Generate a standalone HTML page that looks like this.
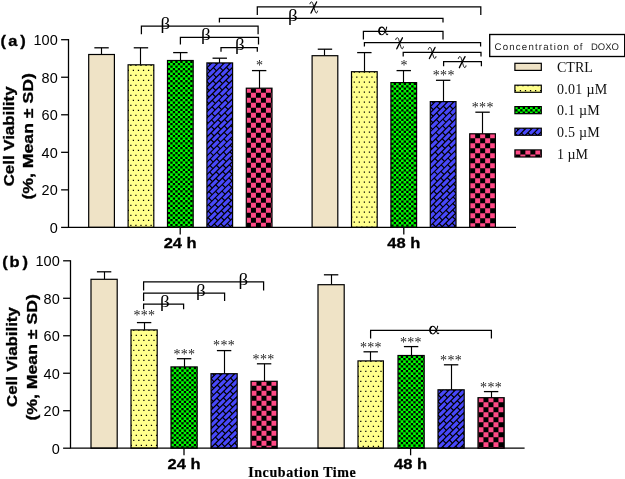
<!DOCTYPE html>
<html><head><meta charset="utf-8"><title>Cell viability</title>
<style>html,body{margin:0;padding:0;background:#fff;}svg{display:block;will-change:transform;}</style>
</head><body>
<svg width="625" height="479" viewBox="0 0 625 479">
<rect width="625" height="479" fill="#fff"/>
<path d="M101.50 54.50 V47.80" stroke="#000" stroke-width="1.15" fill="none"/>
<path d="M94.35 47.80 H108.75" stroke="#000" stroke-width="1.28" fill="none"/>
<rect x="88.70" y="54.50" width="25.70" height="172.90" fill="#EFE3C6" stroke="#000" stroke-width="1.2"/>
<path d="M140.50 64.80 V47.80" stroke="#000" stroke-width="1.15" fill="none"/>
<path d="M133.75 47.80 H148.15" stroke="#000" stroke-width="1.28" fill="none"/>
<clipPath id="c1"><rect x="128.10" y="64.80" width="25.70" height="162.60"/></clipPath><g clip-path="url(#c1)"><rect x="128.10" y="64.80" width="25.70" height="162.60" fill="#FFFF8C"/><path d="M128.34 59.67 V228.40" stroke="#000" stroke-width="1.25" stroke-dasharray="1.25 8.75"/><path d="M130.87 54.67 V228.40" stroke="#000" stroke-width="1.25" stroke-dasharray="1.25 8.75"/><path d="M133.40 59.67 V228.40" stroke="#000" stroke-width="1.25" stroke-dasharray="1.25 8.75"/><path d="M135.93 54.67 V228.40" stroke="#000" stroke-width="1.25" stroke-dasharray="1.25 8.75"/><path d="M138.46 59.67 V228.40" stroke="#000" stroke-width="1.25" stroke-dasharray="1.25 8.75"/><path d="M140.99 54.67 V228.40" stroke="#000" stroke-width="1.25" stroke-dasharray="1.25 8.75"/><path d="M143.52 59.67 V228.40" stroke="#000" stroke-width="1.25" stroke-dasharray="1.25 8.75"/><path d="M146.05 54.67 V228.40" stroke="#000" stroke-width="1.25" stroke-dasharray="1.25 8.75"/><path d="M148.58 59.67 V228.40" stroke="#000" stroke-width="1.25" stroke-dasharray="1.25 8.75"/><path d="M151.11 54.67 V228.40" stroke="#000" stroke-width="1.25" stroke-dasharray="1.25 8.75"/><path d="M153.64 59.67 V228.40" stroke="#000" stroke-width="1.25" stroke-dasharray="1.25 8.75"/></g>
<rect x="128.10" y="64.80" width="25.70" height="162.60" fill="none" stroke="#000" stroke-width="1.2"/>
<path d="M180.50 60.50 V52.60" stroke="#000" stroke-width="1.15" fill="none"/>
<path d="M173.15 52.60 H187.55" stroke="#000" stroke-width="1.28" fill="none"/>
<clipPath id="c2"><rect x="167.50" y="60.50" width="25.70" height="166.90"/></clipPath><g clip-path="url(#c2)"><rect x="167.50" y="60.50" width="25.70" height="166.90" fill="#000"/><path d="M163.95 55.73 V228.40" stroke="#00FF00" stroke-width="2.65" stroke-dasharray="2.55 2.25" stroke-dashoffset="0.00"/><path d="M166.45 55.73 V228.40" stroke="#00FF00" stroke-width="2.65" stroke-dasharray="2.55 2.25" stroke-dashoffset="2.40"/><path d="M168.95 55.73 V228.40" stroke="#00FF00" stroke-width="2.65" stroke-dasharray="2.55 2.25" stroke-dashoffset="0.00"/><path d="M171.45 55.73 V228.40" stroke="#00FF00" stroke-width="2.65" stroke-dasharray="2.55 2.25" stroke-dashoffset="2.40"/><path d="M173.95 55.73 V228.40" stroke="#00FF00" stroke-width="2.65" stroke-dasharray="2.55 2.25" stroke-dashoffset="0.00"/><path d="M176.45 55.73 V228.40" stroke="#00FF00" stroke-width="2.65" stroke-dasharray="2.55 2.25" stroke-dashoffset="2.40"/><path d="M178.95 55.73 V228.40" stroke="#00FF00" stroke-width="2.65" stroke-dasharray="2.55 2.25" stroke-dashoffset="0.00"/><path d="M181.45 55.73 V228.40" stroke="#00FF00" stroke-width="2.65" stroke-dasharray="2.55 2.25" stroke-dashoffset="2.40"/><path d="M183.95 55.73 V228.40" stroke="#00FF00" stroke-width="2.65" stroke-dasharray="2.55 2.25" stroke-dashoffset="0.00"/><path d="M186.45 55.73 V228.40" stroke="#00FF00" stroke-width="2.65" stroke-dasharray="2.55 2.25" stroke-dashoffset="2.40"/><path d="M188.95 55.73 V228.40" stroke="#00FF00" stroke-width="2.65" stroke-dasharray="2.55 2.25" stroke-dashoffset="0.00"/><path d="M191.45 55.73 V228.40" stroke="#00FF00" stroke-width="2.65" stroke-dasharray="2.55 2.25" stroke-dashoffset="2.40"/><path d="M193.95 55.73 V228.40" stroke="#00FF00" stroke-width="2.65" stroke-dasharray="2.55 2.25" stroke-dashoffset="0.00"/></g>
<rect x="167.50" y="60.50" width="25.70" height="166.90" fill="none" stroke="#000" stroke-width="1.2"/>
<path d="M219.50 62.90 V58.20" stroke="#000" stroke-width="1.15" fill="none"/>
<path d="M212.55 58.20 H226.95" stroke="#000" stroke-width="1.28" fill="none"/>
<clipPath id="c3"><rect x="206.90" y="62.90" width="25.70" height="164.50"/></clipPath><g clip-path="url(#c3)"><rect x="206.90" y="62.90" width="25.70" height="164.50" fill="#4848FA"/><g stroke="#000" stroke-width="4.44" stroke-dasharray="1.2 8.35" fill="none"><path d="M205.90 59.42 L233.60 31.72" stroke-dashoffset="5.92"/><path d="M205.90 65.71 L233.60 38.01" stroke-dashoffset="6.25"/><path d="M205.90 71.99 L233.60 44.29" stroke-dashoffset="6.58"/><path d="M205.90 78.28 L233.60 50.58" stroke-dashoffset="6.91"/><path d="M205.90 84.56 L233.60 56.86" stroke-dashoffset="7.25"/><path d="M205.90 90.85 L233.60 63.15" stroke-dashoffset="7.58"/><path d="M205.90 97.13 L233.60 69.43" stroke-dashoffset="7.91"/><path d="M205.90 103.42 L233.60 75.72" stroke-dashoffset="8.24"/><path d="M205.90 109.70 L233.60 82.00" stroke-dashoffset="8.57"/><path d="M205.90 115.99 L233.60 88.29" stroke-dashoffset="8.90"/><path d="M205.90 122.27 L233.60 94.57" stroke-dashoffset="9.23"/><path d="M205.90 128.56 L233.60 100.86" stroke-dashoffset="0.01"/><path d="M205.90 134.84 L233.60 107.14" stroke-dashoffset="0.34"/><path d="M205.90 141.13 L233.60 113.43" stroke-dashoffset="0.67"/><path d="M205.90 147.41 L233.60 119.71" stroke-dashoffset="1.00"/><path d="M205.90 153.70 L233.60 126.00" stroke-dashoffset="1.33"/><path d="M205.90 159.98 L233.60 132.28" stroke-dashoffset="1.67"/><path d="M205.90 166.27 L233.60 138.57" stroke-dashoffset="2.00"/><path d="M205.90 172.55 L233.60 144.85" stroke-dashoffset="2.33"/><path d="M205.90 178.84 L233.60 151.14" stroke-dashoffset="2.66"/><path d="M205.90 185.12 L233.60 157.42" stroke-dashoffset="2.99"/><path d="M205.90 191.41 L233.60 163.71" stroke-dashoffset="3.32"/><path d="M205.90 197.69 L233.60 169.99" stroke-dashoffset="3.65"/><path d="M205.90 203.98 L233.60 176.28" stroke-dashoffset="3.98"/><path d="M205.90 210.26 L233.60 182.56" stroke-dashoffset="4.31"/><path d="M205.90 216.55 L233.60 188.85" stroke-dashoffset="4.64"/><path d="M205.90 222.83 L233.60 195.13" stroke-dashoffset="4.97"/><path d="M205.90 229.12 L233.60 201.42" stroke-dashoffset="5.30"/><path d="M205.90 235.40 L233.60 207.70" stroke-dashoffset="5.64"/><path d="M205.90 241.69 L233.60 213.99" stroke-dashoffset="5.97"/><path d="M205.90 247.97 L233.60 220.27" stroke-dashoffset="6.30"/><path d="M205.90 254.26 L233.60 226.56" stroke-dashoffset="6.63"/></g><path d="M205.90 56.28 L233.60 28.58 M205.90 62.57 L233.60 34.87 M205.90 68.85 L233.60 41.15 M205.90 75.14 L233.60 47.44 M205.90 81.42 L233.60 53.72 M205.90 87.71 L233.60 60.01 M205.90 93.99 L233.60 66.29 M205.90 100.28 L233.60 72.58 M205.90 106.56 L233.60 78.86 M205.90 112.84 L233.60 85.15 M205.90 119.13 L233.60 91.43 M205.90 125.41 L233.60 97.72 M205.90 131.70 L233.60 104.00 M205.90 137.98 L233.60 110.28 M205.90 144.27 L233.60 116.57 M205.90 150.56 L233.60 122.86 M205.90 156.84 L233.60 129.14 M205.90 163.12 L233.60 135.42 M205.90 169.41 L233.60 141.71 M205.90 175.70 L233.60 148.00 M205.90 181.98 L233.60 154.28 M205.90 188.27 L233.60 160.57 M205.90 194.55 L233.60 166.85 M205.90 200.84 L233.60 173.14 M205.90 207.12 L233.60 179.42 M205.90 213.41 L233.60 185.71 M205.90 219.69 L233.60 191.99 M205.90 225.97 L233.60 198.28 M205.90 232.26 L233.60 204.56 M205.90 238.55 L233.60 210.85 M205.90 244.83 L233.60 217.13 M205.90 251.11 L233.60 223.41" stroke="#000" stroke-width="1.2" fill="none"/></g>
<rect x="206.90" y="62.90" width="25.70" height="164.50" fill="none" stroke="#000" stroke-width="1.2"/>
<path d="M259.50 88.20 V70.60" stroke="#000" stroke-width="1.15" fill="none"/>
<path d="M251.95 70.60 H266.35" stroke="#000" stroke-width="1.28" fill="none"/>
<clipPath id="c4"><rect x="246.30" y="88.20" width="25.70" height="139.20"/></clipPath><g clip-path="url(#c4)"><rect x="246.30" y="88.20" width="25.70" height="139.20" fill="#000"/><path d="M243.44 82.70 V228.40" stroke="#FF4A86" stroke-width="5.0" stroke-dasharray="5.0 5.0" stroke-dashoffset="0.00"/><path d="M248.44 82.70 V228.40" stroke="#FF4A86" stroke-width="5.0" stroke-dasharray="5.0 5.0" stroke-dashoffset="5.00"/><path d="M253.44 82.70 V228.40" stroke="#FF4A86" stroke-width="5.0" stroke-dasharray="5.0 5.0" stroke-dashoffset="0.00"/><path d="M258.44 82.70 V228.40" stroke="#FF4A86" stroke-width="5.0" stroke-dasharray="5.0 5.0" stroke-dashoffset="5.00"/><path d="M263.44 82.70 V228.40" stroke="#FF4A86" stroke-width="5.0" stroke-dasharray="5.0 5.0" stroke-dashoffset="0.00"/><path d="M268.44 82.70 V228.40" stroke="#FF4A86" stroke-width="5.0" stroke-dasharray="5.0 5.0" stroke-dashoffset="5.00"/><path d="M273.44 82.70 V228.40" stroke="#FF4A86" stroke-width="5.0" stroke-dasharray="5.0 5.0" stroke-dashoffset="0.00"/></g>
<rect x="246.30" y="88.20" width="25.70" height="139.20" fill="none" stroke="#000" stroke-width="1.2"/>
<path d="M324.50 55.70 V49.20" stroke="#000" stroke-width="1.15" fill="none"/>
<path d="M317.75 49.20 H332.15" stroke="#000" stroke-width="1.28" fill="none"/>
<rect x="312.10" y="55.70" width="25.70" height="171.70" fill="#EFE3C6" stroke="#000" stroke-width="1.2"/>
<path d="M364.50 71.70 V52.60" stroke="#000" stroke-width="1.15" fill="none"/>
<path d="M357.15 52.60 H371.55" stroke="#000" stroke-width="1.28" fill="none"/>
<clipPath id="c5"><rect x="351.50" y="71.70" width="25.70" height="155.70"/></clipPath><g clip-path="url(#c5)"><rect x="351.50" y="71.70" width="25.70" height="155.70" fill="#FFFF8C"/><path d="M351.74 66.57 V228.40" stroke="#000" stroke-width="1.25" stroke-dasharray="1.25 8.75"/><path d="M354.27 61.57 V228.40" stroke="#000" stroke-width="1.25" stroke-dasharray="1.25 8.75"/><path d="M356.80 66.57 V228.40" stroke="#000" stroke-width="1.25" stroke-dasharray="1.25 8.75"/><path d="M359.33 61.57 V228.40" stroke="#000" stroke-width="1.25" stroke-dasharray="1.25 8.75"/><path d="M361.86 66.57 V228.40" stroke="#000" stroke-width="1.25" stroke-dasharray="1.25 8.75"/><path d="M364.39 61.57 V228.40" stroke="#000" stroke-width="1.25" stroke-dasharray="1.25 8.75"/><path d="M366.92 66.57 V228.40" stroke="#000" stroke-width="1.25" stroke-dasharray="1.25 8.75"/><path d="M369.45 61.57 V228.40" stroke="#000" stroke-width="1.25" stroke-dasharray="1.25 8.75"/><path d="M371.98 66.57 V228.40" stroke="#000" stroke-width="1.25" stroke-dasharray="1.25 8.75"/><path d="M374.51 61.57 V228.40" stroke="#000" stroke-width="1.25" stroke-dasharray="1.25 8.75"/><path d="M377.04 66.57 V228.40" stroke="#000" stroke-width="1.25" stroke-dasharray="1.25 8.75"/></g>
<rect x="351.50" y="71.70" width="25.70" height="155.70" fill="none" stroke="#000" stroke-width="1.2"/>
<path d="M403.50 82.60 V70.60" stroke="#000" stroke-width="1.15" fill="none"/>
<path d="M396.55 70.60 H410.95" stroke="#000" stroke-width="1.28" fill="none"/>
<clipPath id="c6"><rect x="390.90" y="82.60" width="25.70" height="144.80"/></clipPath><g clip-path="url(#c6)"><rect x="390.90" y="82.60" width="25.70" height="144.80" fill="#000"/><path d="M387.35 77.83 V228.40" stroke="#00FF00" stroke-width="2.65" stroke-dasharray="2.55 2.25" stroke-dashoffset="0.00"/><path d="M389.85 77.83 V228.40" stroke="#00FF00" stroke-width="2.65" stroke-dasharray="2.55 2.25" stroke-dashoffset="2.40"/><path d="M392.35 77.83 V228.40" stroke="#00FF00" stroke-width="2.65" stroke-dasharray="2.55 2.25" stroke-dashoffset="0.00"/><path d="M394.85 77.83 V228.40" stroke="#00FF00" stroke-width="2.65" stroke-dasharray="2.55 2.25" stroke-dashoffset="2.40"/><path d="M397.35 77.83 V228.40" stroke="#00FF00" stroke-width="2.65" stroke-dasharray="2.55 2.25" stroke-dashoffset="0.00"/><path d="M399.85 77.83 V228.40" stroke="#00FF00" stroke-width="2.65" stroke-dasharray="2.55 2.25" stroke-dashoffset="2.40"/><path d="M402.35 77.83 V228.40" stroke="#00FF00" stroke-width="2.65" stroke-dasharray="2.55 2.25" stroke-dashoffset="0.00"/><path d="M404.85 77.83 V228.40" stroke="#00FF00" stroke-width="2.65" stroke-dasharray="2.55 2.25" stroke-dashoffset="2.40"/><path d="M407.35 77.83 V228.40" stroke="#00FF00" stroke-width="2.65" stroke-dasharray="2.55 2.25" stroke-dashoffset="0.00"/><path d="M409.85 77.83 V228.40" stroke="#00FF00" stroke-width="2.65" stroke-dasharray="2.55 2.25" stroke-dashoffset="2.40"/><path d="M412.35 77.83 V228.40" stroke="#00FF00" stroke-width="2.65" stroke-dasharray="2.55 2.25" stroke-dashoffset="0.00"/><path d="M414.85 77.83 V228.40" stroke="#00FF00" stroke-width="2.65" stroke-dasharray="2.55 2.25" stroke-dashoffset="2.40"/><path d="M417.35 77.83 V228.40" stroke="#00FF00" stroke-width="2.65" stroke-dasharray="2.55 2.25" stroke-dashoffset="0.00"/></g>
<rect x="390.90" y="82.60" width="25.70" height="144.80" fill="none" stroke="#000" stroke-width="1.2"/>
<path d="M443.50 101.60 V80.30" stroke="#000" stroke-width="1.15" fill="none"/>
<path d="M435.95 80.30 H450.35" stroke="#000" stroke-width="1.28" fill="none"/>
<clipPath id="c7"><rect x="430.30" y="101.60" width="25.70" height="125.80"/></clipPath><g clip-path="url(#c7)"><rect x="430.30" y="101.60" width="25.70" height="125.80" fill="#4848FA"/><g stroke="#000" stroke-width="4.44" stroke-dasharray="1.2 8.35" fill="none"><path d="M429.30 98.12 L457.00 70.42" stroke-dashoffset="5.92"/><path d="M429.30 104.41 L457.00 76.71" stroke-dashoffset="6.25"/><path d="M429.30 110.69 L457.00 82.99" stroke-dashoffset="6.58"/><path d="M429.30 116.98 L457.00 89.28" stroke-dashoffset="6.91"/><path d="M429.30 123.26 L457.00 95.56" stroke-dashoffset="7.25"/><path d="M429.30 129.55 L457.00 101.85" stroke-dashoffset="7.58"/><path d="M429.30 135.83 L457.00 108.13" stroke-dashoffset="7.91"/><path d="M429.30 142.12 L457.00 114.42" stroke-dashoffset="8.24"/><path d="M429.30 148.40 L457.00 120.70" stroke-dashoffset="8.57"/><path d="M429.30 154.69 L457.00 126.99" stroke-dashoffset="8.90"/><path d="M429.30 160.97 L457.00 133.27" stroke-dashoffset="9.23"/><path d="M429.30 167.26 L457.00 139.56" stroke-dashoffset="0.01"/><path d="M429.30 173.54 L457.00 145.84" stroke-dashoffset="0.34"/><path d="M429.30 179.83 L457.00 152.13" stroke-dashoffset="0.67"/><path d="M429.30 186.11 L457.00 158.41" stroke-dashoffset="1.00"/><path d="M429.30 192.40 L457.00 164.70" stroke-dashoffset="1.33"/><path d="M429.30 198.68 L457.00 170.98" stroke-dashoffset="1.67"/><path d="M429.30 204.97 L457.00 177.27" stroke-dashoffset="2.00"/><path d="M429.30 211.25 L457.00 183.55" stroke-dashoffset="2.33"/><path d="M429.30 217.54 L457.00 189.84" stroke-dashoffset="2.66"/><path d="M429.30 223.82 L457.00 196.12" stroke-dashoffset="2.99"/><path d="M429.30 230.11 L457.00 202.41" stroke-dashoffset="3.32"/><path d="M429.30 236.39 L457.00 208.69" stroke-dashoffset="3.65"/><path d="M429.30 242.68 L457.00 214.98" stroke-dashoffset="3.98"/><path d="M429.30 248.96 L457.00 221.26" stroke-dashoffset="4.31"/><path d="M429.30 255.25 L457.00 227.55" stroke-dashoffset="4.64"/></g><path d="M429.30 94.98 L457.00 67.28 M429.30 101.26 L457.00 73.56 M429.30 107.55 L457.00 79.85 M429.30 113.83 L457.00 86.13 M429.30 120.12 L457.00 92.42 M429.30 126.40 L457.00 98.70 M429.30 132.69 L457.00 104.99 M429.30 138.97 L457.00 111.27 M429.30 145.26 L457.00 117.56 M429.30 151.55 L457.00 123.85 M429.30 157.83 L457.00 130.13 M429.30 164.11 L457.00 136.41 M429.30 170.40 L457.00 142.70 M429.30 176.69 L457.00 148.99 M429.30 182.97 L457.00 155.27 M429.30 189.25 L457.00 161.55 M429.30 195.54 L457.00 167.84 M429.30 201.82 L457.00 174.12 M429.30 208.11 L457.00 180.41 M429.30 214.39 L457.00 186.69 M429.30 220.68 L457.00 192.98 M429.30 226.96 L457.00 199.26 M429.30 233.25 L457.00 205.55 M429.30 239.54 L457.00 211.84 M429.30 245.82 L457.00 218.12 M429.30 252.10 L457.00 224.40" stroke="#000" stroke-width="1.2" fill="none"/></g>
<rect x="430.30" y="101.60" width="25.70" height="125.80" fill="none" stroke="#000" stroke-width="1.2"/>
<path d="M482.50 133.80 V112.20" stroke="#000" stroke-width="1.15" fill="none"/>
<path d="M475.35 112.20 H489.75" stroke="#000" stroke-width="1.28" fill="none"/>
<clipPath id="c8"><rect x="469.70" y="133.80" width="25.70" height="93.60"/></clipPath><g clip-path="url(#c8)"><rect x="469.70" y="133.80" width="25.70" height="93.60" fill="#000"/><path d="M467.66 128.30 V228.40" stroke="#FF4A86" stroke-width="5.0" stroke-dasharray="5.0 5.0" stroke-dashoffset="0.00"/><path d="M472.66 128.30 V228.40" stroke="#FF4A86" stroke-width="5.0" stroke-dasharray="5.0 5.0" stroke-dashoffset="5.00"/><path d="M477.66 128.30 V228.40" stroke="#FF4A86" stroke-width="5.0" stroke-dasharray="5.0 5.0" stroke-dashoffset="0.00"/><path d="M482.66 128.30 V228.40" stroke="#FF4A86" stroke-width="5.0" stroke-dasharray="5.0 5.0" stroke-dashoffset="5.00"/><path d="M487.66 128.30 V228.40" stroke="#FF4A86" stroke-width="5.0" stroke-dasharray="5.0 5.0" stroke-dashoffset="0.00"/><path d="M492.66 128.30 V228.40" stroke="#FF4A86" stroke-width="5.0" stroke-dasharray="5.0 5.0" stroke-dashoffset="5.00"/></g>
<rect x="469.70" y="133.80" width="25.70" height="93.60" fill="none" stroke="#000" stroke-width="1.2"/>
<path d="M68.50 39.06 V227.40 H516.00" stroke="#000" stroke-width="1.28" fill="none" stroke-linejoin="miter"/>
<path d="M61.10 39.70 H68.50" stroke="#000" stroke-width="1.28"/>
<text x="57.70" y="45.20" text-anchor="end" font-family="'Liberation Sans', sans-serif" font-size="14.5" textLength="24.2" lengthAdjust="spacingAndGlyphs" fill="#000">100</text>
<path d="M61.10 77.24 H68.50" stroke="#000" stroke-width="1.28"/>
<text x="57.70" y="82.74" text-anchor="end" font-family="'Liberation Sans', sans-serif" font-size="14.5" textLength="16.1" lengthAdjust="spacingAndGlyphs" fill="#000">80</text>
<path d="M61.10 114.78 H68.50" stroke="#000" stroke-width="1.28"/>
<text x="57.70" y="120.28" text-anchor="end" font-family="'Liberation Sans', sans-serif" font-size="14.5" textLength="16.1" lengthAdjust="spacingAndGlyphs" fill="#000">60</text>
<path d="M61.10 152.32 H68.50" stroke="#000" stroke-width="1.28"/>
<text x="57.70" y="157.82" text-anchor="end" font-family="'Liberation Sans', sans-serif" font-size="14.5" textLength="16.1" lengthAdjust="spacingAndGlyphs" fill="#000">40</text>
<path d="M61.10 189.86 H68.50" stroke="#000" stroke-width="1.28"/>
<text x="57.70" y="195.36" text-anchor="end" font-family="'Liberation Sans', sans-serif" font-size="14.5" textLength="16.1" lengthAdjust="spacingAndGlyphs" fill="#000">20</text>
<path d="M61.10 227.40 H68.50" stroke="#000" stroke-width="1.28"/>
<text x="57.70" y="232.90" text-anchor="end" font-family="'Liberation Sans', sans-serif" font-size="14.5" textLength="8.06" lengthAdjust="spacingAndGlyphs" fill="#000">0</text>
<path d="M180.20 227.40 V234.50" stroke="#000" stroke-width="1.28"/>
<text x="180.20" y="248.40" text-anchor="middle" font-family="'Liberation Sans', sans-serif" font-size="14.3" font-weight="bold" stroke="#000" stroke-width="0.3" textLength="33.0" lengthAdjust="spacingAndGlyphs" fill="#000">24 h</text>
<path d="M403.80 227.40 V234.50" stroke="#000" stroke-width="1.28"/>
<text x="403.80" y="248.40" text-anchor="middle" font-family="'Liberation Sans', sans-serif" font-size="14.3" font-weight="bold" stroke="#000" stroke-width="0.3" textLength="33.0" lengthAdjust="spacingAndGlyphs" fill="#000">48 h</text>
<g transform="translate(13.60 136.40) rotate(-90)">
<text x="0.00" y="0.00" text-anchor="middle" font-family="'Liberation Sans', sans-serif" font-size="14.0" font-weight="bold" stroke="#000" stroke-width="0.3" textLength="99.8" lengthAdjust="spacingAndGlyphs" fill="#000">Cell Viability</text>
</g>
<g transform="translate(33.00 136.40) rotate(-90)">
<text x="0.00" y="0.00" text-anchor="middle" font-family="'Liberation Sans', sans-serif" font-size="14.0" font-weight="bold" stroke="#000" stroke-width="0.3" textLength="126.3" lengthAdjust="spacingAndGlyphs" fill="#000">(%, Mean ± SD)</text>
</g>
<g transform="translate(0 46.1) scale(1.15 1)"><text x="0.48 7.28 17.57" y="0" font-family="'Liberation Sans', sans-serif" font-size="14.3" font-weight="bold" stroke="#000" stroke-width="0.3" fill="#000">(a)</text></g>
<text x="259.65" y="70.30" text-anchor="middle" letter-spacing="0.3" font-family="'Liberation Serif', serif" font-size="14" fill="#222">*</text>
<text x="404.05" y="70.30" text-anchor="middle" letter-spacing="0.3" font-family="'Liberation Serif', serif" font-size="14" fill="#222">*</text>
<text x="443.75" y="80.00" text-anchor="middle" letter-spacing="0.3" font-family="'Liberation Serif', serif" font-size="14" fill="#222">***</text>
<text x="482.75" y="111.90" text-anchor="middle" letter-spacing="0.3" font-family="'Liberation Serif', serif" font-size="14" fill="#222">***</text>
<path d="M141.40 34.20 V26.00 H258.10 V34.20" stroke="#000" stroke-width="1.25" fill="none"/>
<g transform="translate(165.30 28.70) scale(1.15 1)"><text x="0" y="0" text-anchor="middle" font-family="'Liberation Serif', serif" font-size="16.5" fill="#000">β</text></g>
<path d="M180.40 44.60 V37.40 H258.50 V44.60" stroke="#000" stroke-width="1.25" fill="none"/>
<g transform="translate(205.70 40.10) scale(1.15 1)"><text x="0" y="0" text-anchor="middle" font-family="'Liberation Serif', serif" font-size="16.5" fill="#000">β</text></g>
<path d="M221.00 51.80 V47.50 H257.30 V51.80" stroke="#000" stroke-width="1.25" fill="none"/>
<g transform="translate(239.70 50.20) scale(1.15 1)"><text x="0" y="0" text-anchor="middle" font-family="'Liberation Serif', serif" font-size="16.5" fill="#000">β</text></g>
<path d="M219.40 22.60 V18.30 H443.00 V22.60" stroke="#000" stroke-width="1.25" fill="none"/>
<g transform="translate(292.70 21.00) scale(1.15 1)"><text x="0" y="0" text-anchor="middle" font-family="'Liberation Serif', serif" font-size="16.5" fill="#000">β</text></g>
<path d="M257.30 15.00 V6.80 H480.80 V15.00" stroke="#000" stroke-width="1.25" fill="none"/>
<g transform="translate(313.80 6.80) scale(0.88 0.98)" fill="none" stroke="#000" stroke-linecap="round"><path d="M-3.2 6.3 C-1.5 3 1.2 -1.5 3.2 -4.9" stroke-width="1.5"/><path d="M-4.4 -3.1 C-4.0 -4.6 -2.9 -5.3 -2.2 -4.9 C-1.2 -4.4 -0.8 -2.5 0 0 C0.9 2.8 1.5 5.5 2.6 6.2 C3.4 6.6 4.1 5.6 4.3 4.4" stroke-width="1.0"/></g>
<path d="M363.40 39.40 V31.30 H443.00 V39.40" stroke="#000" stroke-width="1.25" fill="none"/>
<g transform="translate(383.20 31.30) scale(0.97)" fill="none" stroke="#000" stroke-linecap="round"><path d="M3.6 -4.4 C3.2 -2.5 2.8 -1.2 2.2 -0.2 C1.2 1.8 0.2 3.6 -1.4 3.6 C-3.4 3.6 -4.4 1.8 -4.4 -0.4 C-4.4 -2.6 -3.3 -4.3 -1.4 -4.3 C0.3 -4.3 1.4 -2.4 2.2 -0.2 C2.8 1.6 3.0 3.5 3.9 3.5 C4.3 3.5 4.6 3.2 4.7 2.8" stroke-width="1.05"/><path d="M-2.9 3.0 C-4.0 2.2 -4.3 0.8 -4.3 -0.4 C-4.3 -1.6 -4.0 -2.9 -2.9 -3.7" stroke-width="1.55"/></g>
<path d="M364.40 46.60 V42.60 H480.60 V46.60" stroke="#000" stroke-width="1.25" fill="none"/>
<g transform="translate(399.60 42.60) scale(0.88 0.98)" fill="none" stroke="#000" stroke-linecap="round"><path d="M-3.2 6.3 C-1.5 3 1.2 -1.5 3.2 -4.9" stroke-width="1.5"/><path d="M-4.4 -3.1 C-4.0 -4.6 -2.9 -5.3 -2.2 -4.9 C-1.2 -4.4 -0.8 -2.5 0 0 C0.9 2.8 1.5 5.5 2.6 6.2 C3.4 6.6 4.1 5.6 4.3 4.4" stroke-width="1.0"/></g>
<path d="M403.20 56.60 V52.30 H481.00 V56.60" stroke="#000" stroke-width="1.25" fill="none"/>
<g transform="translate(432.20 52.30) scale(0.88 0.98)" fill="none" stroke="#000" stroke-linecap="round"><path d="M-3.2 6.3 C-1.5 3 1.2 -1.5 3.2 -4.9" stroke-width="1.5"/><path d="M-4.4 -3.1 C-4.0 -4.6 -2.9 -5.3 -2.2 -4.9 C-1.2 -4.4 -0.8 -2.5 0 0 C0.9 2.8 1.5 5.5 2.6 6.2 C3.4 6.6 4.1 5.6 4.3 4.4" stroke-width="1.0"/></g>
<path d="M443.60 66.20 V61.50 H481.40 V66.20" stroke="#000" stroke-width="1.25" fill="none"/>
<g transform="translate(462.20 61.50) scale(0.88 0.98)" fill="none" stroke="#000" stroke-linecap="round"><path d="M-3.2 6.3 C-1.5 3 1.2 -1.5 3.2 -4.9" stroke-width="1.5"/><path d="M-4.4 -3.1 C-4.0 -4.6 -2.9 -5.3 -2.2 -4.9 C-1.2 -4.4 -0.8 -2.5 0 0 C0.9 2.8 1.5 5.5 2.6 6.2 C3.4 6.6 4.1 5.6 4.3 4.4" stroke-width="1.0"/></g>
<rect x="489.7" y="34.5" width="135.0" height="22.0" fill="#fff" stroke="#000" stroke-width="1.35"/>
<g transform="translate(494.6 49.5) skewX(0.05)"><text x="0" y="0" font-family="'Liberation Sans', sans-serif" font-size="9.7" textLength="74.3" lengthAdjust="spacing" fill="#1c1c1c">Concentration</text></g>
<g transform="translate(573.6 49.5) skewX(0.05)"><text x="0" y="0" font-family="'Liberation Sans', sans-serif" font-size="9.7" textLength="8.8" lengthAdjust="spacing" fill="#1c1c1c">of</text></g>
<g transform="translate(590.9 49.5) skewX(0.05)"><text x="0" y="0" font-family="'Liberation Sans', sans-serif" font-size="9.5" textLength="28.0" lengthAdjust="spacing" fill="#1c1c1c">DOXO</text></g>
<rect x="514.9" y="63.30" width="26.4" height="7.1" fill="#EFE3C6" stroke="#000" stroke-width="1.2"/>
<text x="557.0" y="72.05" font-family="'Liberation Serif', serif" font-size="14" textLength="35.9" lengthAdjust="spacing" fill="#111">CTRL</text>
<clipPath id="c9"><rect x="514.90" y="85.20" width="26.40" height="7.10"/></clipPath><g clip-path="url(#c9)"><rect x="514.90" y="85.20" width="26.40" height="7.10" fill="#FFFF8C"/><path d="M515.38 80.08 V93.30" stroke="#000" stroke-width="1.25" stroke-dasharray="1.25 8.75"/><path d="M517.91 75.08 V93.30" stroke="#000" stroke-width="1.25" stroke-dasharray="1.25 8.75"/><path d="M520.44 80.08 V93.30" stroke="#000" stroke-width="1.25" stroke-dasharray="1.25 8.75"/><path d="M522.97 75.08 V93.30" stroke="#000" stroke-width="1.25" stroke-dasharray="1.25 8.75"/><path d="M525.50 80.08 V93.30" stroke="#000" stroke-width="1.25" stroke-dasharray="1.25 8.75"/><path d="M528.03 75.08 V93.30" stroke="#000" stroke-width="1.25" stroke-dasharray="1.25 8.75"/><path d="M530.56 80.08 V93.30" stroke="#000" stroke-width="1.25" stroke-dasharray="1.25 8.75"/><path d="M533.09 75.08 V93.30" stroke="#000" stroke-width="1.25" stroke-dasharray="1.25 8.75"/><path d="M535.62 80.08 V93.30" stroke="#000" stroke-width="1.25" stroke-dasharray="1.25 8.75"/><path d="M538.15 75.08 V93.30" stroke="#000" stroke-width="1.25" stroke-dasharray="1.25 8.75"/><path d="M540.68 80.08 V93.30" stroke="#000" stroke-width="1.25" stroke-dasharray="1.25 8.75"/></g>
<rect x="514.9" y="85.20" width="26.4" height="7.1" fill="none" stroke="#000" stroke-width="1.2"/>
<text x="557.0" y="93.67" font-family="'Liberation Serif', serif" font-size="14" textLength="50.2" lengthAdjust="spacing" fill="#111">0.01 µM</text>
<clipPath id="c10"><rect x="514.90" y="106.60" width="26.40" height="7.10"/></clipPath><g clip-path="url(#c10)"><rect x="514.90" y="106.60" width="26.40" height="7.10" fill="#000"/><path d="M511.35 101.83 V114.70" stroke="#00FF00" stroke-width="2.65" stroke-dasharray="2.55 2.25" stroke-dashoffset="0.00"/><path d="M513.85 101.83 V114.70" stroke="#00FF00" stroke-width="2.65" stroke-dasharray="2.55 2.25" stroke-dashoffset="2.40"/><path d="M516.35 101.83 V114.70" stroke="#00FF00" stroke-width="2.65" stroke-dasharray="2.55 2.25" stroke-dashoffset="0.00"/><path d="M518.85 101.83 V114.70" stroke="#00FF00" stroke-width="2.65" stroke-dasharray="2.55 2.25" stroke-dashoffset="2.40"/><path d="M521.35 101.83 V114.70" stroke="#00FF00" stroke-width="2.65" stroke-dasharray="2.55 2.25" stroke-dashoffset="0.00"/><path d="M523.85 101.83 V114.70" stroke="#00FF00" stroke-width="2.65" stroke-dasharray="2.55 2.25" stroke-dashoffset="2.40"/><path d="M526.35 101.83 V114.70" stroke="#00FF00" stroke-width="2.65" stroke-dasharray="2.55 2.25" stroke-dashoffset="0.00"/><path d="M528.85 101.83 V114.70" stroke="#00FF00" stroke-width="2.65" stroke-dasharray="2.55 2.25" stroke-dashoffset="2.40"/><path d="M531.35 101.83 V114.70" stroke="#00FF00" stroke-width="2.65" stroke-dasharray="2.55 2.25" stroke-dashoffset="0.00"/><path d="M533.85 101.83 V114.70" stroke="#00FF00" stroke-width="2.65" stroke-dasharray="2.55 2.25" stroke-dashoffset="2.40"/><path d="M536.35 101.83 V114.70" stroke="#00FF00" stroke-width="2.65" stroke-dasharray="2.55 2.25" stroke-dashoffset="0.00"/><path d="M538.85 101.83 V114.70" stroke="#00FF00" stroke-width="2.65" stroke-dasharray="2.55 2.25" stroke-dashoffset="2.40"/><path d="M541.35 101.83 V114.70" stroke="#00FF00" stroke-width="2.65" stroke-dasharray="2.55 2.25" stroke-dashoffset="0.00"/></g>
<rect x="514.9" y="106.60" width="26.4" height="7.1" fill="none" stroke="#000" stroke-width="1.2"/>
<text x="557.0" y="115.29" font-family="'Liberation Serif', serif" font-size="14" textLength="42.8" lengthAdjust="spacing" fill="#111">0.1 µM</text>
<clipPath id="c11"><rect x="514.90" y="128.20" width="26.40" height="7.10"/></clipPath><g clip-path="url(#c11)"><rect x="514.90" y="128.20" width="26.40" height="7.10" fill="#4848FA"/><g stroke="#000" stroke-width="4.44" stroke-dasharray="1.2 8.35" fill="none"><path d="M513.90 124.72 L542.30 96.32" stroke-dashoffset="5.92"/><path d="M513.90 131.01 L542.30 102.61" stroke-dashoffset="6.25"/><path d="M513.90 137.29 L542.30 108.89" stroke-dashoffset="6.58"/><path d="M513.90 143.58 L542.30 115.18" stroke-dashoffset="6.91"/><path d="M513.90 149.86 L542.30 121.46" stroke-dashoffset="7.25"/><path d="M513.90 156.15 L542.30 127.75" stroke-dashoffset="7.58"/><path d="M513.90 162.43 L542.30 134.03" stroke-dashoffset="7.91"/></g><path d="M513.90 121.58 L542.30 93.18 M513.90 127.86 L542.30 99.46 M513.90 134.15 L542.30 105.75 M513.90 140.43 L542.30 112.03 M513.90 146.72 L542.30 118.32 M513.90 153.00 L542.30 124.60 M513.90 159.29 L542.30 130.89" stroke="#000" stroke-width="1.2" fill="none"/></g>
<rect x="514.9" y="128.20" width="26.4" height="7.1" fill="none" stroke="#000" stroke-width="1.2"/>
<text x="557.0" y="136.91" font-family="'Liberation Serif', serif" font-size="14" textLength="42.8" lengthAdjust="spacing" fill="#111">0.5 µM</text>
<clipPath id="c12"><rect x="514.90" y="149.90" width="26.40" height="7.10"/></clipPath><g clip-path="url(#c12)"><rect x="514.90" y="149.90" width="26.40" height="7.10" fill="#000"/><path d="M512.86 144.40 V158.00" stroke="#FF4A86" stroke-width="5.0" stroke-dasharray="5.0 5.0" stroke-dashoffset="0.00"/><path d="M517.86 144.40 V158.00" stroke="#FF4A86" stroke-width="5.0" stroke-dasharray="5.0 5.0" stroke-dashoffset="5.00"/><path d="M522.86 144.40 V158.00" stroke="#FF4A86" stroke-width="5.0" stroke-dasharray="5.0 5.0" stroke-dashoffset="0.00"/><path d="M527.86 144.40 V158.00" stroke="#FF4A86" stroke-width="5.0" stroke-dasharray="5.0 5.0" stroke-dashoffset="5.00"/><path d="M532.86 144.40 V158.00" stroke="#FF4A86" stroke-width="5.0" stroke-dasharray="5.0 5.0" stroke-dashoffset="0.00"/><path d="M537.86 144.40 V158.00" stroke="#FF4A86" stroke-width="5.0" stroke-dasharray="5.0 5.0" stroke-dashoffset="5.00"/><path d="M542.86 144.40 V158.00" stroke="#FF4A86" stroke-width="5.0" stroke-dasharray="5.0 5.0" stroke-dashoffset="0.00"/></g>
<rect x="514.9" y="149.90" width="26.4" height="7.1" fill="none" stroke="#000" stroke-width="1.2"/>
<text x="557.0" y="158.53" font-family="'Liberation Serif', serif" font-size="14" textLength="30.9" lengthAdjust="spacing" fill="#111">1 µM</text>
<path d="M104.50 279.30 V271.80" stroke="#000" stroke-width="1.15" fill="none"/>
<path d="M96.90 271.80 H111.30" stroke="#000" stroke-width="1.28" fill="none"/>
<rect x="91.00" y="279.30" width="26.20" height="168.90" fill="#EFE3C6" stroke="#000" stroke-width="1.2"/>
<path d="M144.50 329.90 V322.60" stroke="#000" stroke-width="1.15" fill="none"/>
<path d="M136.90 322.60 H151.30" stroke="#000" stroke-width="1.28" fill="none"/>
<clipPath id="c13"><rect x="131.00" y="329.90" width="26.20" height="118.30"/></clipPath><g clip-path="url(#c13)"><rect x="131.00" y="329.90" width="26.20" height="118.30" fill="#FFFF8C"/><path d="M131.24 324.78 V449.20" stroke="#000" stroke-width="1.25" stroke-dasharray="1.25 8.75"/><path d="M133.77 319.78 V449.20" stroke="#000" stroke-width="1.25" stroke-dasharray="1.25 8.75"/><path d="M136.30 324.78 V449.20" stroke="#000" stroke-width="1.25" stroke-dasharray="1.25 8.75"/><path d="M138.83 319.78 V449.20" stroke="#000" stroke-width="1.25" stroke-dasharray="1.25 8.75"/><path d="M141.36 324.78 V449.20" stroke="#000" stroke-width="1.25" stroke-dasharray="1.25 8.75"/><path d="M143.89 319.78 V449.20" stroke="#000" stroke-width="1.25" stroke-dasharray="1.25 8.75"/><path d="M146.42 324.78 V449.20" stroke="#000" stroke-width="1.25" stroke-dasharray="1.25 8.75"/><path d="M148.95 319.78 V449.20" stroke="#000" stroke-width="1.25" stroke-dasharray="1.25 8.75"/><path d="M151.48 324.78 V449.20" stroke="#000" stroke-width="1.25" stroke-dasharray="1.25 8.75"/><path d="M154.01 319.78 V449.20" stroke="#000" stroke-width="1.25" stroke-dasharray="1.25 8.75"/><path d="M156.54 324.78 V449.20" stroke="#000" stroke-width="1.25" stroke-dasharray="1.25 8.75"/></g>
<rect x="131.00" y="329.90" width="26.20" height="118.30" fill="none" stroke="#000" stroke-width="1.2"/>
<path d="M184.50 366.90 V358.70" stroke="#000" stroke-width="1.15" fill="none"/>
<path d="M176.90 358.70 H191.30" stroke="#000" stroke-width="1.28" fill="none"/>
<clipPath id="c14"><rect x="171.00" y="366.90" width="26.20" height="81.30"/></clipPath><g clip-path="url(#c14)"><rect x="171.00" y="366.90" width="26.20" height="81.30" fill="#000"/><path d="M167.45 362.13 V449.20" stroke="#00FF00" stroke-width="2.65" stroke-dasharray="2.55 2.25" stroke-dashoffset="0.00"/><path d="M169.95 362.13 V449.20" stroke="#00FF00" stroke-width="2.65" stroke-dasharray="2.55 2.25" stroke-dashoffset="2.40"/><path d="M172.45 362.13 V449.20" stroke="#00FF00" stroke-width="2.65" stroke-dasharray="2.55 2.25" stroke-dashoffset="0.00"/><path d="M174.95 362.13 V449.20" stroke="#00FF00" stroke-width="2.65" stroke-dasharray="2.55 2.25" stroke-dashoffset="2.40"/><path d="M177.45 362.13 V449.20" stroke="#00FF00" stroke-width="2.65" stroke-dasharray="2.55 2.25" stroke-dashoffset="0.00"/><path d="M179.95 362.13 V449.20" stroke="#00FF00" stroke-width="2.65" stroke-dasharray="2.55 2.25" stroke-dashoffset="2.40"/><path d="M182.45 362.13 V449.20" stroke="#00FF00" stroke-width="2.65" stroke-dasharray="2.55 2.25" stroke-dashoffset="0.00"/><path d="M184.95 362.13 V449.20" stroke="#00FF00" stroke-width="2.65" stroke-dasharray="2.55 2.25" stroke-dashoffset="2.40"/><path d="M187.45 362.13 V449.20" stroke="#00FF00" stroke-width="2.65" stroke-dasharray="2.55 2.25" stroke-dashoffset="0.00"/><path d="M189.95 362.13 V449.20" stroke="#00FF00" stroke-width="2.65" stroke-dasharray="2.55 2.25" stroke-dashoffset="2.40"/><path d="M192.45 362.13 V449.20" stroke="#00FF00" stroke-width="2.65" stroke-dasharray="2.55 2.25" stroke-dashoffset="0.00"/><path d="M194.95 362.13 V449.20" stroke="#00FF00" stroke-width="2.65" stroke-dasharray="2.55 2.25" stroke-dashoffset="2.40"/><path d="M197.45 362.13 V449.20" stroke="#00FF00" stroke-width="2.65" stroke-dasharray="2.55 2.25" stroke-dashoffset="0.00"/></g>
<rect x="171.00" y="366.90" width="26.20" height="81.30" fill="none" stroke="#000" stroke-width="1.2"/>
<path d="M224.50 373.70 V350.60" stroke="#000" stroke-width="1.15" fill="none"/>
<path d="M216.90 350.60 H231.30" stroke="#000" stroke-width="1.28" fill="none"/>
<clipPath id="c15"><rect x="211.00" y="373.70" width="26.20" height="74.50"/></clipPath><g clip-path="url(#c15)"><rect x="211.00" y="373.70" width="26.20" height="74.50" fill="#4848FA"/><g stroke="#000" stroke-width="4.44" stroke-dasharray="1.2 8.35" fill="none"><path d="M210.00 370.22 L238.20 342.02" stroke-dashoffset="5.92"/><path d="M210.00 376.51 L238.20 348.31" stroke-dashoffset="6.25"/><path d="M210.00 382.79 L238.20 354.59" stroke-dashoffset="6.58"/><path d="M210.00 389.08 L238.20 360.88" stroke-dashoffset="6.91"/><path d="M210.00 395.36 L238.20 367.16" stroke-dashoffset="7.25"/><path d="M210.00 401.65 L238.20 373.45" stroke-dashoffset="7.58"/><path d="M210.00 407.93 L238.20 379.73" stroke-dashoffset="7.91"/><path d="M210.00 414.22 L238.20 386.02" stroke-dashoffset="8.24"/><path d="M210.00 420.50 L238.20 392.30" stroke-dashoffset="8.57"/><path d="M210.00 426.79 L238.20 398.59" stroke-dashoffset="8.90"/><path d="M210.00 433.07 L238.20 404.87" stroke-dashoffset="9.23"/><path d="M210.00 439.36 L238.20 411.16" stroke-dashoffset="0.01"/><path d="M210.00 445.64 L238.20 417.44" stroke-dashoffset="0.34"/><path d="M210.00 451.93 L238.20 423.73" stroke-dashoffset="0.67"/><path d="M210.00 458.21 L238.20 430.01" stroke-dashoffset="1.00"/><path d="M210.00 464.50 L238.20 436.30" stroke-dashoffset="1.33"/><path d="M210.00 470.78 L238.20 442.58" stroke-dashoffset="1.67"/><path d="M210.00 477.07 L238.20 448.87" stroke-dashoffset="2.00"/></g><path d="M210.00 367.08 L238.20 338.88 M210.00 373.36 L238.20 345.16 M210.00 379.65 L238.20 351.45 M210.00 385.93 L238.20 357.73 M210.00 392.22 L238.20 364.02 M210.00 398.50 L238.20 370.30 M210.00 404.79 L238.20 376.59 M210.00 411.07 L238.20 382.87 M210.00 417.36 L238.20 389.16 M210.00 423.64 L238.20 395.44 M210.00 429.93 L238.20 401.73 M210.00 436.21 L238.20 408.01 M210.00 442.50 L238.20 414.30 M210.00 448.78 L238.20 420.58 M210.00 455.07 L238.20 426.87 M210.00 461.35 L238.20 433.15 M210.00 467.64 L238.20 439.44 M210.00 473.92 L238.20 445.72" stroke="#000" stroke-width="1.2" fill="none"/></g>
<rect x="211.00" y="373.70" width="26.20" height="74.50" fill="none" stroke="#000" stroke-width="1.2"/>
<path d="M264.50 381.30 V363.80" stroke="#000" stroke-width="1.15" fill="none"/>
<path d="M256.90 363.80 H271.30" stroke="#000" stroke-width="1.28" fill="none"/>
<clipPath id="c16"><rect x="251.00" y="381.30" width="26.20" height="66.90"/></clipPath><g clip-path="url(#c16)"><rect x="251.00" y="381.30" width="26.20" height="66.90" fill="#000"/><path d="M248.96 375.80 V449.20" stroke="#FF4A86" stroke-width="5.0" stroke-dasharray="5.0 5.0" stroke-dashoffset="0.00"/><path d="M253.96 375.80 V449.20" stroke="#FF4A86" stroke-width="5.0" stroke-dasharray="5.0 5.0" stroke-dashoffset="5.00"/><path d="M258.96 375.80 V449.20" stroke="#FF4A86" stroke-width="5.0" stroke-dasharray="5.0 5.0" stroke-dashoffset="0.00"/><path d="M263.96 375.80 V449.20" stroke="#FF4A86" stroke-width="5.0" stroke-dasharray="5.0 5.0" stroke-dashoffset="5.00"/><path d="M268.96 375.80 V449.20" stroke="#FF4A86" stroke-width="5.0" stroke-dasharray="5.0 5.0" stroke-dashoffset="0.00"/><path d="M273.96 375.80 V449.20" stroke="#FF4A86" stroke-width="5.0" stroke-dasharray="5.0 5.0" stroke-dashoffset="5.00"/></g>
<rect x="251.00" y="381.30" width="26.20" height="66.90" fill="none" stroke="#000" stroke-width="1.2"/>
<path d="M331.50 284.70 V274.80" stroke="#000" stroke-width="1.15" fill="none"/>
<path d="M323.90 274.80 H338.30" stroke="#000" stroke-width="1.28" fill="none"/>
<rect x="318.00" y="284.70" width="26.20" height="163.50" fill="#EFE3C6" stroke="#000" stroke-width="1.2"/>
<path d="M370.50 360.90 V351.80" stroke="#000" stroke-width="1.15" fill="none"/>
<path d="M363.50 351.80 H377.90" stroke="#000" stroke-width="1.28" fill="none"/>
<clipPath id="c17"><rect x="358.00" y="360.90" width="25.40" height="87.30"/></clipPath><g clip-path="url(#c17)"><rect x="358.00" y="360.90" width="25.40" height="87.30" fill="#FFFF8C"/><path d="M358.24 355.78 V449.20" stroke="#000" stroke-width="1.25" stroke-dasharray="1.25 8.75"/><path d="M360.77 350.78 V449.20" stroke="#000" stroke-width="1.25" stroke-dasharray="1.25 8.75"/><path d="M363.30 355.78 V449.20" stroke="#000" stroke-width="1.25" stroke-dasharray="1.25 8.75"/><path d="M365.83 350.78 V449.20" stroke="#000" stroke-width="1.25" stroke-dasharray="1.25 8.75"/><path d="M368.36 355.78 V449.20" stroke="#000" stroke-width="1.25" stroke-dasharray="1.25 8.75"/><path d="M370.89 350.78 V449.20" stroke="#000" stroke-width="1.25" stroke-dasharray="1.25 8.75"/><path d="M373.42 355.78 V449.20" stroke="#000" stroke-width="1.25" stroke-dasharray="1.25 8.75"/><path d="M375.95 350.78 V449.20" stroke="#000" stroke-width="1.25" stroke-dasharray="1.25 8.75"/><path d="M378.48 355.78 V449.20" stroke="#000" stroke-width="1.25" stroke-dasharray="1.25 8.75"/><path d="M381.01 350.78 V449.20" stroke="#000" stroke-width="1.25" stroke-dasharray="1.25 8.75"/><path d="M383.54 355.78 V449.20" stroke="#000" stroke-width="1.25" stroke-dasharray="1.25 8.75"/></g>
<rect x="358.00" y="360.90" width="25.40" height="87.30" fill="none" stroke="#000" stroke-width="1.2"/>
<path d="M411.50 355.50 V346.60" stroke="#000" stroke-width="1.15" fill="none"/>
<path d="M403.90 346.60 H418.30" stroke="#000" stroke-width="1.28" fill="none"/>
<clipPath id="c18"><rect x="398.00" y="355.50" width="26.20" height="92.70"/></clipPath><g clip-path="url(#c18)"><rect x="398.00" y="355.50" width="26.20" height="92.70" fill="#000"/><path d="M394.45 350.73 V449.20" stroke="#00FF00" stroke-width="2.65" stroke-dasharray="2.55 2.25" stroke-dashoffset="0.00"/><path d="M396.95 350.73 V449.20" stroke="#00FF00" stroke-width="2.65" stroke-dasharray="2.55 2.25" stroke-dashoffset="2.40"/><path d="M399.45 350.73 V449.20" stroke="#00FF00" stroke-width="2.65" stroke-dasharray="2.55 2.25" stroke-dashoffset="0.00"/><path d="M401.95 350.73 V449.20" stroke="#00FF00" stroke-width="2.65" stroke-dasharray="2.55 2.25" stroke-dashoffset="2.40"/><path d="M404.45 350.73 V449.20" stroke="#00FF00" stroke-width="2.65" stroke-dasharray="2.55 2.25" stroke-dashoffset="0.00"/><path d="M406.95 350.73 V449.20" stroke="#00FF00" stroke-width="2.65" stroke-dasharray="2.55 2.25" stroke-dashoffset="2.40"/><path d="M409.45 350.73 V449.20" stroke="#00FF00" stroke-width="2.65" stroke-dasharray="2.55 2.25" stroke-dashoffset="0.00"/><path d="M411.95 350.73 V449.20" stroke="#00FF00" stroke-width="2.65" stroke-dasharray="2.55 2.25" stroke-dashoffset="2.40"/><path d="M414.45 350.73 V449.20" stroke="#00FF00" stroke-width="2.65" stroke-dasharray="2.55 2.25" stroke-dashoffset="0.00"/><path d="M416.95 350.73 V449.20" stroke="#00FF00" stroke-width="2.65" stroke-dasharray="2.55 2.25" stroke-dashoffset="2.40"/><path d="M419.45 350.73 V449.20" stroke="#00FF00" stroke-width="2.65" stroke-dasharray="2.55 2.25" stroke-dashoffset="0.00"/><path d="M421.95 350.73 V449.20" stroke="#00FF00" stroke-width="2.65" stroke-dasharray="2.55 2.25" stroke-dashoffset="2.40"/><path d="M424.45 350.73 V449.20" stroke="#00FF00" stroke-width="2.65" stroke-dasharray="2.55 2.25" stroke-dashoffset="0.00"/></g>
<rect x="398.00" y="355.50" width="26.20" height="92.70" fill="none" stroke="#000" stroke-width="1.2"/>
<path d="M451.50 389.80 V364.80" stroke="#000" stroke-width="1.15" fill="none"/>
<path d="M443.90 364.80 H458.30" stroke="#000" stroke-width="1.28" fill="none"/>
<clipPath id="c19"><rect x="438.00" y="389.80" width="26.20" height="58.40"/></clipPath><g clip-path="url(#c19)"><rect x="438.00" y="389.80" width="26.20" height="58.40" fill="#4848FA"/><g stroke="#000" stroke-width="4.44" stroke-dasharray="1.2 8.35" fill="none"><path d="M437.00 386.32 L465.20 358.12" stroke-dashoffset="5.92"/><path d="M437.00 392.61 L465.20 364.41" stroke-dashoffset="6.25"/><path d="M437.00 398.89 L465.20 370.69" stroke-dashoffset="6.58"/><path d="M437.00 405.18 L465.20 376.98" stroke-dashoffset="6.91"/><path d="M437.00 411.46 L465.20 383.26" stroke-dashoffset="7.25"/><path d="M437.00 417.75 L465.20 389.55" stroke-dashoffset="7.58"/><path d="M437.00 424.03 L465.20 395.83" stroke-dashoffset="7.91"/><path d="M437.00 430.32 L465.20 402.12" stroke-dashoffset="8.24"/><path d="M437.00 436.60 L465.20 408.40" stroke-dashoffset="8.57"/><path d="M437.00 442.89 L465.20 414.69" stroke-dashoffset="8.90"/><path d="M437.00 449.17 L465.20 420.97" stroke-dashoffset="9.23"/><path d="M437.00 455.46 L465.20 427.26" stroke-dashoffset="0.01"/><path d="M437.00 461.74 L465.20 433.54" stroke-dashoffset="0.34"/><path d="M437.00 468.03 L465.20 439.83" stroke-dashoffset="0.67"/><path d="M437.00 474.31 L465.20 446.11" stroke-dashoffset="1.00"/></g><path d="M437.00 383.18 L465.20 354.98 M437.00 389.46 L465.20 361.26 M437.00 395.75 L465.20 367.55 M437.00 402.03 L465.20 373.83 M437.00 408.32 L465.20 380.12 M437.00 414.60 L465.20 386.40 M437.00 420.89 L465.20 392.69 M437.00 427.17 L465.20 398.97 M437.00 433.46 L465.20 405.26 M437.00 439.74 L465.20 411.54 M437.00 446.03 L465.20 417.83 M437.00 452.31 L465.20 424.11 M437.00 458.60 L465.20 430.40 M437.00 464.88 L465.20 436.68 M437.00 471.17 L465.20 442.97" stroke="#000" stroke-width="1.2" fill="none"/></g>
<rect x="438.00" y="389.80" width="26.20" height="58.40" fill="none" stroke="#000" stroke-width="1.2"/>
<path d="M491.50 397.70 V391.60" stroke="#000" stroke-width="1.15" fill="none"/>
<path d="M483.90 391.60 H498.30" stroke="#000" stroke-width="1.28" fill="none"/>
<clipPath id="c20"><rect x="478.00" y="397.70" width="26.20" height="50.50"/></clipPath><g clip-path="url(#c20)"><rect x="478.00" y="397.70" width="26.20" height="50.50" fill="#000"/><path d="M475.96 392.20 V449.20" stroke="#FF4A86" stroke-width="5.0" stroke-dasharray="5.0 5.0" stroke-dashoffset="0.00"/><path d="M480.96 392.20 V449.20" stroke="#FF4A86" stroke-width="5.0" stroke-dasharray="5.0 5.0" stroke-dashoffset="5.00"/><path d="M485.96 392.20 V449.20" stroke="#FF4A86" stroke-width="5.0" stroke-dasharray="5.0 5.0" stroke-dashoffset="0.00"/><path d="M490.96 392.20 V449.20" stroke="#FF4A86" stroke-width="5.0" stroke-dasharray="5.0 5.0" stroke-dashoffset="5.00"/><path d="M495.96 392.20 V449.20" stroke="#FF4A86" stroke-width="5.0" stroke-dasharray="5.0 5.0" stroke-dashoffset="0.00"/><path d="M500.96 392.20 V449.20" stroke="#FF4A86" stroke-width="5.0" stroke-dasharray="5.0 5.0" stroke-dashoffset="5.00"/></g>
<rect x="478.00" y="397.70" width="26.20" height="50.50" fill="none" stroke="#000" stroke-width="1.2"/>
<path d="M70.50 260.16 V448.20 H524.60" stroke="#000" stroke-width="1.28" fill="none" stroke-linejoin="miter"/>
<path d="M63.10 260.80 H70.50" stroke="#000" stroke-width="1.28"/>
<text x="59.70" y="266.30" text-anchor="end" font-family="'Liberation Sans', sans-serif" font-size="14.5" textLength="24.2" lengthAdjust="spacingAndGlyphs" fill="#000">100</text>
<path d="M63.10 298.28 H70.50" stroke="#000" stroke-width="1.28"/>
<text x="59.70" y="303.78" text-anchor="end" font-family="'Liberation Sans', sans-serif" font-size="14.5" textLength="16.1" lengthAdjust="spacingAndGlyphs" fill="#000">80</text>
<path d="M63.10 335.76 H70.50" stroke="#000" stroke-width="1.28"/>
<text x="59.70" y="341.26" text-anchor="end" font-family="'Liberation Sans', sans-serif" font-size="14.5" textLength="16.1" lengthAdjust="spacingAndGlyphs" fill="#000">60</text>
<path d="M63.10 373.24 H70.50" stroke="#000" stroke-width="1.28"/>
<text x="59.70" y="378.74" text-anchor="end" font-family="'Liberation Sans', sans-serif" font-size="14.5" textLength="16.1" lengthAdjust="spacingAndGlyphs" fill="#000">40</text>
<path d="M63.10 410.72 H70.50" stroke="#000" stroke-width="1.28"/>
<text x="59.70" y="416.22" text-anchor="end" font-family="'Liberation Sans', sans-serif" font-size="14.5" textLength="16.1" lengthAdjust="spacingAndGlyphs" fill="#000">20</text>
<path d="M63.10 448.20 H70.50" stroke="#000" stroke-width="1.28"/>
<text x="59.70" y="453.70" text-anchor="end" font-family="'Liberation Sans', sans-serif" font-size="14.5" textLength="8.06" lengthAdjust="spacingAndGlyphs" fill="#000">0</text>
<path d="M184.00 448.20 V455.30" stroke="#000" stroke-width="1.28"/>
<text x="184.00" y="469.20" text-anchor="middle" font-family="'Liberation Sans', sans-serif" font-size="14.3" font-weight="bold" stroke="#000" stroke-width="0.3" textLength="33.0" lengthAdjust="spacingAndGlyphs" fill="#000">24 h</text>
<path d="M410.60 448.20 V455.30" stroke="#000" stroke-width="1.28"/>
<text x="410.60" y="469.20" text-anchor="middle" font-family="'Liberation Sans', sans-serif" font-size="14.3" font-weight="bold" stroke="#000" stroke-width="0.3" textLength="33.0" lengthAdjust="spacingAndGlyphs" fill="#000">48 h</text>
<g transform="translate(17.00 357.10) rotate(-90)">
<text x="0.00" y="0.00" text-anchor="middle" font-family="'Liberation Sans', sans-serif" font-size="14.0" font-weight="bold" stroke="#000" stroke-width="0.3" textLength="99.8" lengthAdjust="spacingAndGlyphs" fill="#000">Cell Viability</text>
</g>
<g transform="translate(36.80 357.40) rotate(-90)">
<text x="0.00" y="0.00" text-anchor="middle" font-family="'Liberation Sans', sans-serif" font-size="14.0" font-weight="bold" stroke="#000" stroke-width="0.3" textLength="126.3" lengthAdjust="spacingAndGlyphs" fill="#000">(%, Mean ± SD)</text>
</g>
<g transform="translate(0 267.1) scale(1.15 1)"><text x="2.04 8.22 19.55" y="0" font-family="'Liberation Sans', sans-serif" font-size="14.3" font-weight="bold" stroke="#000" stroke-width="0.3" fill="#000">(b)</text></g>
<text x="144.35" y="320.40" text-anchor="middle" letter-spacing="0.3" font-family="'Liberation Serif', serif" font-size="14" fill="#222">***</text>
<text x="184.35" y="358.60" text-anchor="middle" letter-spacing="0.3" font-family="'Liberation Serif', serif" font-size="14" fill="#222">***</text>
<text x="224.05" y="350.20" text-anchor="middle" letter-spacing="0.3" font-family="'Liberation Serif', serif" font-size="14" fill="#222">***</text>
<text x="263.55" y="364.00" text-anchor="middle" letter-spacing="0.3" font-family="'Liberation Serif', serif" font-size="14" fill="#222">***</text>
<text x="370.95" y="351.60" text-anchor="middle" letter-spacing="0.3" font-family="'Liberation Serif', serif" font-size="14" fill="#222">***</text>
<text x="410.85" y="346.50" text-anchor="middle" letter-spacing="0.3" font-family="'Liberation Serif', serif" font-size="14" fill="#222">***</text>
<text x="451.05" y="364.80" text-anchor="middle" letter-spacing="0.3" font-family="'Liberation Serif', serif" font-size="14" fill="#222">***</text>
<text x="491.05" y="392.00" text-anchor="middle" letter-spacing="0.3" font-family="'Liberation Serif', serif" font-size="14" fill="#222">***</text>
<path d="M143.60 290.40 V281.90 H263.60 V290.40" stroke="#000" stroke-width="1.25" fill="none"/>
<g transform="translate(243.30 284.60) scale(1.15 1)"><text x="0" y="0" text-anchor="middle" font-family="'Liberation Serif', serif" font-size="16.5" fill="#000">β</text></g>
<path d="M143.60 301.10 V293.20 H224.60 V301.10" stroke="#000" stroke-width="1.25" fill="none"/>
<g transform="translate(200.70 295.90) scale(1.15 1)"><text x="0" y="0" text-anchor="middle" font-family="'Liberation Serif', serif" font-size="16.5" fill="#000">β</text></g>
<path d="M143.60 309.20 V304.20 H183.60 V309.20" stroke="#000" stroke-width="1.25" fill="none"/>
<g transform="translate(164.70 306.90) scale(1.15 1)"><text x="0" y="0" text-anchor="middle" font-family="'Liberation Serif', serif" font-size="16.5" fill="#000">β</text></g>
<path d="M370.60 338.40 V330.40 H491.40 V338.40" stroke="#000" stroke-width="1.25" fill="none"/>
<g transform="translate(434.20 330.40) scale(0.97)" fill="none" stroke="#000" stroke-linecap="round"><path d="M3.6 -4.4 C3.2 -2.5 2.8 -1.2 2.2 -0.2 C1.2 1.8 0.2 3.6 -1.4 3.6 C-3.4 3.6 -4.4 1.8 -4.4 -0.4 C-4.4 -2.6 -3.3 -4.3 -1.4 -4.3 C0.3 -4.3 1.4 -2.4 2.2 -0.2 C2.8 1.6 3.0 3.5 3.9 3.5 C4.3 3.5 4.6 3.2 4.7 2.8" stroke-width="1.05"/><path d="M-2.9 3.0 C-4.0 2.2 -4.3 0.8 -4.3 -0.4 C-4.3 -1.6 -4.0 -2.9 -2.9 -3.7" stroke-width="1.55"/></g>
<text x="248.2" y="476.5" font-family="'Liberation Serif', serif" font-size="14" font-weight="bold" textLength="107.6" lengthAdjust="spacing" fill="#000" stroke="#000" stroke-width="0.2">Incubation Time</text>
</svg>
</body></html>
